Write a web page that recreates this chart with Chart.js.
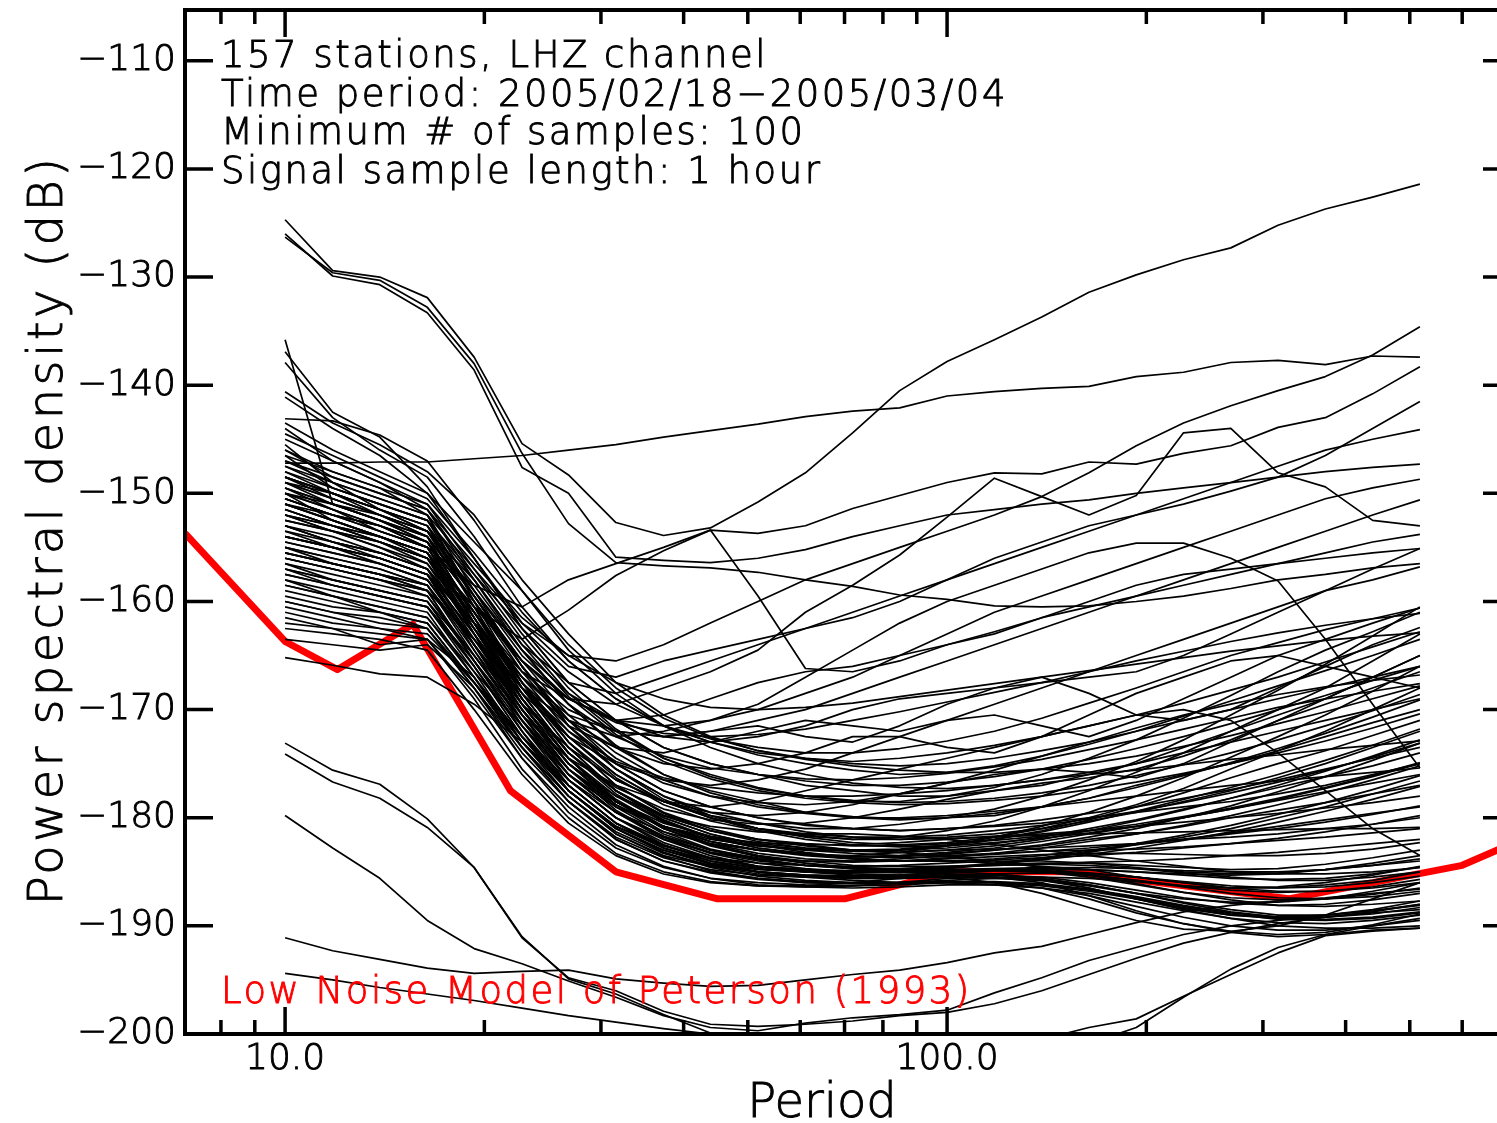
<!DOCTYPE html>
<html>
<head>
<meta charset="utf-8">
<script src="https://cdn.jsdelivr.net/npm/chart.js@4.4.1/dist/chart.umd.min.js"></script>
<style>
  html, body { margin: 0; padding: 0; background: #fff; overflow: hidden; }
  canvas { display: block; }
</style>
</head>
<body>
<canvas id="chart" width="1520" height="1123"></canvas>
<script>
// periods (s) where every station PSD is sampled
const periods = [10.0, 11.8, 13.9, 16.4, 19.3, 22.8, 26.8, 31.6, 37.3, 43.9, 51.8, 61.1, 72.0,
    84.8, 100.0, 117.9, 139.0, 163.8, 193.1, 227.6, 268.3, 316.2, 372.8, 439.4, 517.9];

// Peterson (1993) low noise model, dB
const nlnmPeriods = [7.06, 10, 12, 15.6, 21.9, 31.6, 45, 70, 101, 154, 328, 600, 720];
const nlnmDb = [-153.7, -163.7, -166.3, -162.1, -177.5, -185.0, -187.5, -187.5, -185.0, -185.0, -187.5, -184.4, -182.3];

const dbTicks = [-200, -190, -180, -170, -160, -150, -140, -130, -120, -110];
const periodLabelTicks = [10, 100];
const periodMinorTicks = [8, 9, 20, 30, 40, 50, 60, 70, 80, 90, 200, 300, 400, 500, 600, 700];

const infoLines = [
    "157 stations, LHZ channel",
    "Time period: 2005/02/18\u22122005/03/04",
    "Minimum # of samples: 100",
    "Signal sample length: 1 hour"
];

// noisy stations, upper part of the plot
const upperStations = [
    [-124.7, -129.4, -130.0, -131.9, -137.4, -145.4, -148.3, -152.7, -153.9, -153.2, -150.8, -148.1, -144.4, -140.5, -137.8, -135.8, -133.7, -131.4, -129.8, -128.4, -127.3, -125.2, -123.7, -122.6, -121.4],
    [-126.0, -129.9, -130.7, -133.3, -138.6, -147.6, -150.0, -155.9, -156.2, -156.4, -156.0, -155.2, -154.0, -153.0, -152.0, -151.5, -151.0, -150.6, -150.0, -149.5, -149.0, -148.5, -148.0, -147.6, -147.3],
    [-126.3, -129.6, -130.3, -132.8, -138.0, -146.3, -152.8, -156.4, -156.7, -156.9, -157.3, -158.0, -158.6, -159.4, -159.8, -160.4, -160.5, -160.4, -160.0, -159.5, -158.8, -158.0, -157.5, -156.9, -156.5],
    [-147.2, -147.2, -147.1, -147.1, -146.8, -146.5, -146.0, -145.5, -144.8, -144.2, -143.6, -142.9, -142.4, -142.1, -141.0, -140.6, -140.3, -140.1, -139.2, -138.8, -137.9, -137.7, -138.1, -137.3, -137.4],
    [-146.0, -148.0, -149.5, -152.0, -157.0, -162.0, -165.0, -165.5, -164.0, -162.0, -160.0, -158.0, -156.5, -155.0, -153.5, -152.0, -150.3, -148.1, -145.6, -143.5, -141.9, -140.5, -139.2, -137.2, -134.6],
    [-148.5, -150.0, -151.5, -153.5, -158.0, -164.0, -167.5, -168.5, -167.0, -165.5, -164.0, -162.5, -161.0, -159.5, -158.0, -156.5, -155.0, -153.5, -152.0, -150.5, -149.0, -147.5, -146.0, -145.0, -144.1],
    [-144.0, -147.0, -149.0, -151.0, -156.0, -162.0, -166.0, -167.0, -165.5, -164.5, -163.5, -162.5, -161.5, -160.0, -158.0, -156.0, -154.5, -153.0, -152.0, -151.0, -149.8, -148.5, -146.5, -144.0, -141.5],
    [-150.5, -152.0, -153.0, -155.0, -158.5, -160.5, -158.0, -156.5, -155.0, -153.4, -153.7, -153.0, -151.4, -150.2, -149.0, -148.1, -148.2, -147.1, -147.3, -146.3, -145.6, -143.9, -143.0, -140.8, -138.3],
    [-150.0, -152.5, -154.0, -156.0, -160.5, -163.5, -160.8, -157.6, -155.3, -153.4, -159.5, -166.2, -166.5, -165.5, -164.0, -162.8, -161.5, -160.5, -159.5, -158.5, -157.5, -156.5, -155.5, -154.5, -153.8],
    [-154.0, -155.0, -156.0, -157.5, -162.0, -166.5, -169.0, -169.5, -168.0, -166.5, -164.5, -161.0, -158.5, -155.7, -152.2, -148.6, -150.3, -152.0, -150.2, -144.4, -144.0, -148.1, -149.4, -152.5, -153.0],
    [-152.0, -153.0, -154.5, -156.0, -161.0, -166.5, -170.0, -172.0, -172.5, -172.0, -171.0, -170.0, -168.5, -167.0, -165.5, -164.0, -162.5, -161.0, -159.5, -158.0, -156.5, -155.0, -153.5, -152.0, -150.6],
    [-149.0, -150.5, -152.0, -153.5, -159.0, -165.0, -169.0, -171.0, -171.5, -171.0, -170.0, -168.5, -167.0, -165.0, -163.0, -161.0, -159.5, -158.0, -156.5, -155.0, -153.5, -152.0, -150.5, -149.5, -148.7],
    [-155.5, -156.5, -157.5, -159.0, -163.5, -168.0, -171.0, -172.5, -172.0, -171.0, -169.5, -167.0, -164.5, -162.0, -160.0, -158.5, -157.0, -155.5, -154.6, -154.6, -156.0, -158.1, -163.5, -169.5, -175.4],
    [-135.8, -151.0, -152.5, -154.0, -160.0, -166.5, -171.5, -175.0, -177.5, -179.0, -180.0, -180.6, -181.0, -181.2, -181.0, -180.7, -180.2, -179.6, -179.0, -178.2, -177.4, -176.5, -175.5, -174.5, -173.5],
    [-136.9, -142.5, -144.8, -149.4, -156.0, -162.5, -167.5, -171.0, -173.5, -175.0, -176.0, -176.6, -177.0, -177.0, -176.7, -176.2, -175.5, -174.6, -173.6, -172.5, -171.3, -170.0, -168.7, -167.3, -166.0],
    [-137.9, -143.0, -146.0, -148.5, -154.0, -160.5, -165.5, -169.0, -171.5, -173.0, -174.0, -174.5, -174.8, -174.5, -174.0, -173.3, -172.5, -171.5, -170.5, -169.4, -168.2, -167.0, -165.6, -164.2, -162.8],
    [-140.6, -143.5, -145.5, -148.0, -152.0, -158.0, -163.0, -167.5, -170.5, -172.5, -173.8, -174.5, -175.0, -175.2, -175.0, -174.5, -173.8, -173.0, -172.0, -171.0, -170.0, -169.0, -168.0, -167.0, -166.0],
    [-141.1, -144.0, -146.5, -150.0, -154.5, -159.0, -164.0, -168.0, -170.8, -172.6, -173.8, -174.6, -175.2, -175.6, -175.8, -175.8, -175.5, -175.0, -174.3, -173.4, -172.4, -171.3, -170.2, -169.0, -167.8],
    [-143.1, -143.3, -144.6, -147.0, -152.5, -159.0, -164.5, -168.5, -171.5, -173.5, -175.0, -176.0, -176.8, -177.2, -177.3, -177.0, -176.5, -175.8, -175.0, -174.0, -173.0, -172.0, -171.0, -170.0, -169.0]
];

// main bundle of stations
const coreStations = [
    [-143.5, -146.0, -148.0, -150.0, -156.0, -162.5, -167.5, -171.0, -173.5, -175.0, -176.0, -177.0, -177.5, -178.0, -178.0, -177.5, -177.0, -176.0, -175.0, -173.5, -172.0, -170.5, -169.0, -167.0, -165.0],
    [-145.0, -147.0, -149.0, -151.5, -158.0, -164.5, -169.5, -173.5, -176.0, -177.5, -178.5, -179.5, -180.0, -180.2, -180.0, -179.8, -179.0, -178.2, -177.0, -176.0, -175.0, -173.8, -172.5, -171.2, -170.0],
    [-146.5, -149.5, -151.0, -152.5, -159.5, -166.0, -171.0, -175.0, -177.5, -179.0, -180.0, -180.7, -181.0, -181.2, -181.0, -180.8, -180.5, -180.0, -179.5, -179.0, -178.5, -177.8, -177.0, -176.0, -175.0],
    [-147.5, -149.0, -150.5, -152.0, -160.0, -167.5, -173.0, -177.0, -179.5, -181.0, -182.0, -182.5, -183.0, -183.2, -183.0, -182.9, -182.8, -182.6, -182.4, -182.0, -181.8, -181.5, -181.0, -180.6, -180.0],
    [-148.5, -150.5, -152.0, -154.0, -161.5, -168.5, -174.0, -177.5, -180.0, -181.5, -182.5, -183.2, -183.7, -184.0, -184.0, -184.2, -184.5, -184.8, -185.5, -186.0, -186.5, -186.5, -186.2, -185.8, -185.0],
    [-149.0, -150.0, -151.5, -153.0, -159.5, -166.0, -171.5, -175.5, -178.0, -179.5, -180.5, -181.3, -181.8, -182.0, -181.8, -181.5, -181.0, -180.3, -179.5, -178.5, -177.5, -176.3, -175.0, -173.5, -172.0],
    [-149.5, -151.5, -153.5, -155.0, -162.0, -169.0, -174.5, -178.5, -181.0, -182.5, -183.5, -184.2, -184.7, -185.0, -185.0, -185.2, -185.6, -186.2, -187.0, -187.8, -188.5, -189.0, -189.0, -188.6, -188.0],
    [-150.0, -151.0, -152.5, -154.5, -161.0, -168.0, -173.5, -177.5, -180.0, -181.5, -182.5, -183.0, -183.3, -183.5, -183.3, -183.0, -182.6, -182.0, -181.5, -180.8, -180.0, -179.3, -178.6, -177.8, -177.0],
    [-150.5, -152.0, -153.0, -154.5, -162.0, -169.5, -175.0, -178.5, -181.0, -182.5, -183.5, -184.0, -184.4, -184.5, -184.5, -184.4, -184.3, -184.1, -184.0, -183.8, -183.5, -183.2, -182.8, -182.4, -182.0],
    [-151.0, -152.0, -153.5, -155.0, -161.0, -167.0, -172.0, -175.5, -178.0, -179.8, -181.0, -181.8, -182.3, -182.5, -182.3, -181.8, -181.0, -180.0, -178.8, -177.3, -175.5, -173.8, -172.0, -170.0, -168.0],
    [-151.5, -153.0, -154.0, -155.5, -163.0, -170.5, -176.0, -179.5, -182.0, -183.5, -184.5, -185.0, -185.3, -185.5, -185.5, -185.6, -185.8, -186.3, -187.0, -187.5, -187.8, -187.8, -187.5, -186.8, -186.0],
    [-152.0, -153.5, -154.5, -156.0, -162.5, -169.0, -174.0, -177.5, -179.8, -181.2, -182.0, -182.6, -183.0, -183.0, -182.8, -182.4, -181.8, -181.0, -180.2, -179.2, -178.2, -177.2, -176.2, -175.2, -174.0],
    [-152.5, -153.5, -155.0, -156.5, -163.0, -169.5, -175.0, -178.5, -180.8, -182.2, -183.0, -183.5, -183.8, -184.0, -184.0, -183.8, -183.5, -183.0, -182.5, -182.0, -181.4, -180.8, -180.2, -179.6, -179.0],
    [-153.0, -154.5, -155.5, -157.0, -164.0, -171.0, -176.5, -180.0, -182.5, -184.0, -185.0, -185.5, -185.8, -186.0, -186.0, -186.2, -186.5, -187.0, -187.8, -188.6, -189.3, -189.7, -189.8, -189.5, -189.0],
    [-153.5, -154.5, -155.5, -157.0, -162.5, -168.0, -172.5, -176.0, -178.5, -180.0, -181.0, -181.6, -182.0, -181.8, -181.2, -180.3, -179.0, -177.5, -175.8, -174.0, -172.0, -170.0, -168.0, -165.5, -163.0],
    [-154.0, -155.0, -156.0, -157.5, -164.0, -170.5, -176.0, -179.5, -181.8, -183.2, -184.0, -184.4, -184.6, -184.7, -184.5, -184.3, -184.2, -184.2, -184.4, -184.6, -184.8, -184.7, -184.3, -183.7, -183.0],
    [-154.5, -155.5, -156.5, -158.0, -164.0, -170.0, -175.0, -178.5, -180.8, -182.2, -183.0, -183.4, -183.6, -183.5, -183.2, -182.8, -182.2, -181.5, -180.8, -180.0, -179.2, -178.4, -177.6, -176.8, -176.0],
    [-155.0, -156.0, -157.0, -158.5, -165.0, -171.0, -176.5, -180.0, -182.3, -183.7, -184.5, -184.8, -185.0, -185.0, -184.9, -184.8, -184.9, -185.3, -185.8, -186.3, -186.5, -186.4, -186.0, -185.3, -184.5],
    [-155.5, -156.5, -157.5, -158.5, -164.0, -169.5, -173.5, -176.5, -178.5, -179.8, -180.5, -181.0, -181.0, -180.6, -180.0, -179.2, -178.0, -176.5, -174.8, -172.8, -170.5, -168.2, -165.8, -163.2, -160.5],
    [-156.0, -157.0, -158.0, -159.0, -165.5, -172.0, -177.5, -181.0, -183.0, -184.3, -185.0, -185.3, -185.5, -185.5, -185.4, -185.5, -185.8, -186.5, -187.5, -188.5, -189.3, -190.0, -190.2, -190.2, -190.0],
    [-156.5, -157.5, -158.5, -159.5, -165.5, -171.5, -176.5, -180.0, -182.0, -183.2, -183.8, -184.0, -184.0, -183.8, -183.5, -183.3, -183.1, -183.0, -182.9, -182.7, -182.4, -182.1, -181.8, -181.4, -181.0],
    [-157.0, -158.0, -159.0, -160.0, -166.0, -172.5, -177.5, -181.0, -183.0, -184.2, -184.8, -185.0, -185.0, -184.9, -184.8, -184.8, -185.0, -185.5, -186.2, -186.9, -187.4, -187.6, -187.5, -187.1, -186.5],
    [-157.5, -158.5, -159.5, -160.5, -165.5, -171.0, -175.5, -178.5, -180.5, -181.7, -182.4, -182.8, -183.0, -182.9, -182.5, -182.0, -181.2, -180.2, -179.0, -177.7, -176.3, -175.0, -173.8, -172.4, -171.0],
    [-158.0, -159.0, -160.0, -161.0, -167.0, -173.5, -178.5, -182.0, -184.0, -185.0, -185.6, -185.9, -186.0, -186.0, -185.9, -186.0, -186.3, -186.8, -187.5, -188.3, -189.0, -189.3, -189.2, -188.7, -188.0],
    [-158.5, -159.5, -160.5, -161.5, -166.5, -171.5, -176.0, -179.0, -180.8, -181.8, -182.3, -182.5, -182.5, -182.3, -182.0, -181.7, -181.5, -181.2, -180.8, -180.4, -180.0, -179.6, -179.1, -178.6, -178.0],
    [-159.0, -160.0, -161.0, -162.0, -167.5, -173.0, -177.5, -180.8, -182.6, -183.7, -184.2, -184.4, -184.5, -184.4, -184.2, -184.0, -184.0, -184.2, -184.6, -185.0, -185.2, -185.1, -184.8, -184.4, -184.0],
    [-160.0, -161.0, -161.5, -162.5, -168.0, -174.0, -178.5, -181.8, -183.7, -184.8, -185.3, -185.5, -185.5, -185.4, -185.3, -185.3, -185.5, -186.0, -186.7, -187.4, -187.9, -188.1, -188.0, -187.6, -187.0],
    [-161.0, -162.0, -162.5, -163.0, -167.5, -172.5, -176.5, -179.5, -181.3, -182.4, -183.0, -183.4, -183.5, -183.2, -182.6, -181.8, -180.8, -179.5, -178.0, -176.3, -174.4, -172.5, -170.5, -168.3, -166.0],
    [-162.0, -162.5, -163.0, -163.5, -168.5, -174.5, -179.0, -182.5, -184.5, -185.6, -186.2, -186.4, -186.5, -186.4, -186.2, -186.2, -186.5, -187.2, -188.2, -189.2, -190.0, -190.4, -190.4, -190.0, -189.5],
    [-146.0, -148.5, -150.0, -151.5, -157.5, -163.5, -168.5, -172.0, -174.5, -176.0, -177.2, -178.0, -178.5, -178.5, -178.0, -177.2, -176.0, -174.5, -172.8, -170.8, -168.7, -166.5, -164.5, -162.8, -161.0],
    [-144.5, -146.5, -148.5, -150.5, -155.5, -161.0, -165.5, -169.0, -171.5, -173.0, -174.2, -175.0, -175.6, -176.0, -175.8, -175.2, -174.3, -173.2, -172.0, -170.6, -169.2, -167.8, -166.4, -165.0, -163.5],
    [-148.0, -149.5, -151.0, -152.5, -157.5, -162.5, -166.5, -169.5, -171.5, -172.7, -173.5, -174.0, -174.0, -173.6, -172.9, -172.0, -170.8, -169.4, -168.0, -166.5, -165.0, -163.8, -162.6, -161.6, -160.6],
    [-150.0, -151.5, -153.0, -154.5, -160.0, -165.5, -169.5, -172.5, -174.3, -175.4, -176.0, -176.4, -176.5, -176.3, -175.9, -175.3, -174.6, -173.7, -172.8, -171.8, -170.8, -169.8, -169.0, -168.3, -167.6],
    [-147.0, -148.5, -150.0, -151.5, -156.5, -161.5, -165.0, -167.5, -169.0, -169.8, -170.0, -169.8, -169.4, -168.8, -168.2, -167.6, -167.0, -166.4, -165.8, -165.2, -164.6, -164.1, -163.6, -163.2, -162.9],
    [-151.0, -152.5, -154.0, -155.5, -160.5, -165.5, -169.0, -171.2, -172.2, -172.5, -172.3, -171.8, -171.0, -170.2, -169.3, -168.4, -167.5, -166.5, -165.5, -164.6, -163.7, -162.9, -162.2, -161.6, -161.1],
    [-153.0, -154.0, -155.5, -157.0, -162.5, -168.0, -172.0, -174.8, -176.3, -177.2, -177.7, -178.0, -178.0, -177.8, -177.5, -177.0, -176.5, -176.0, -175.6, -175.1, -174.6, -174.2, -173.7, -173.3, -172.9],
    [-149.5, -151.0, -152.0, -153.5, -159.5, -165.5, -170.5, -174.0, -176.5, -178.0, -179.0, -179.6, -180.0, -180.0, -179.8, -179.4, -179.0, -178.5, -178.0, -177.5, -177.0, -176.6, -176.2, -175.8, -175.4],
    [-154.0, -155.0, -156.5, -158.0, -164.0, -170.0, -175.0, -178.0, -179.8, -180.8, -181.3, -181.5, -181.5, -181.7, -182.0, -182.5, -183.0, -183.5, -184.0, -184.5, -185.0, -185.2, -185.2, -185.0, -184.6],
    [-155.5, -156.5, -157.5, -158.5, -164.5, -170.5, -175.5, -178.8, -180.8, -182.0, -182.6, -182.9, -183.0, -183.2, -183.6, -184.0, -184.6, -185.3, -186.1, -186.9, -187.6, -188.1, -188.2, -188.0, -187.7],
    [-145.5, -149.0, -151.5, -153.5, -160.5, -167.5, -172.5, -176.3, -178.8, -180.3, -181.2, -181.7, -182.0, -182.0, -181.9, -181.8, -181.6, -181.5, -181.4, -181.3, -181.2, -181.1, -181.0, -181.0, -180.9],
    [-152.0, -153.5, -155.0, -157.0, -162.0, -167.0, -170.5, -172.0, -172.5, -172.0, -171.5, -172.5, -173.0, -171.5, -169.5, -168.0, -167.0, -168.5, -170.5, -171.0, -170.0, -168.0, -166.0, -164.0, -162.4],
    [-149.0, -150.5, -152.0, -154.0, -159.5, -165.5, -169.0, -171.0, -170.5, -169.0, -167.5, -166.5, -166.0, -165.0, -164.0, -163.0, -161.5, -160.0, -158.5, -157.5, -157.0, -156.5, -156.0, -155.5, -155.1],
    [-151.5, -153.0, -154.5, -156.5, -162.0, -167.5, -171.5, -173.5, -174.0, -173.0, -172.0, -171.0, -171.5, -172.0, -171.0, -169.5, -168.0, -166.5, -165.0, -163.5, -162.0, -160.5, -159.0, -158.0, -156.8],
    [-156.0, -157.0, -158.0, -159.0, -163.5, -168.5, -172.5, -175.0, -176.5, -177.0, -176.5, -175.5, -174.0, -172.5, -171.0, -170.5, -171.5, -172.5, -171.0, -169.0, -167.0, -165.0, -163.5, -162.0, -160.6],
    [-150.5, -152.0, -153.5, -155.0, -161.0, -167.0, -171.0, -173.5, -175.0, -175.5, -175.0, -174.0, -172.5, -172.5, -173.5, -174.0, -172.5, -170.5, -168.5, -167.0, -165.5, -165.0, -166.0, -167.0, -168.0],
    [-148.5, -150.0, -152.0, -153.5, -159.0, -164.5, -168.5, -171.0, -172.5, -173.0, -172.5, -171.5, -170.0, -169.0, -168.5, -168.0, -167.5, -167.0, -166.5, -165.0, -163.0, -161.0, -159.0, -157.0, -155.1],
    [-157.0, -158.0, -159.0, -160.0, -165.0, -170.5, -174.5, -177.0, -178.5, -179.0, -178.5, -177.5, -176.5, -175.5, -174.5, -173.5, -172.5, -171.5, -170.5, -170.0, -171.0, -174.0, -177.5, -181.0, -183.5],
    [-158.0, -159.5, -161.0, -162.5, -168.0, -174.5, -179.5, -182.8, -184.6, -185.6, -186.0, -186.2, -186.3, -186.2, -186.0, -186.0, -186.5, -187.5, -188.8, -189.8, -190.5, -190.8, -190.6, -189.9, -188.9],
    [-160.5, -161.5, -162.5, -163.5, -169.0, -175.5, -180.0, -183.3, -185.0, -185.9, -186.3, -186.4, -186.3, -186.0, -185.6, -185.5, -186.0, -187.2, -188.6, -189.8, -190.6, -191.0, -190.8, -190.0, -189.3],
    [-162.5, -163.0, -163.5, -164.5, -170.0, -176.0, -180.5, -183.5, -185.2, -186.0, -186.3, -186.3, -186.0, -185.6, -185.5, -186.0, -187.0, -188.3, -189.5, -190.3, -190.5, -190.0, -189.0, -187.5, -186.0],
    [-165.2, -165.9, -166.7, -167.0, -169.5, -173.0, -177.0, -180.5, -182.5, -183.8, -184.5, -185.0, -185.2, -185.3, -185.2, -185.3, -185.7, -186.5, -187.5, -188.4, -189.0, -189.2, -189.0, -188.5, -187.7],
    [-163.5, -164.0, -164.5, -164.0, -168.0, -173.5, -178.0, -181.5, -183.5, -184.5, -185.0, -185.3, -185.4, -185.3, -185.0, -184.8, -184.7, -184.8, -185.0, -185.2, -185.3, -185.2, -184.8, -184.2, -183.5],
    [-161.5, -162.5, -164.0, -163.5, -167.0, -172.5, -177.0, -180.5, -182.8, -184.0, -184.7, -185.0, -185.1, -185.0, -184.7, -184.3, -183.8, -183.2, -182.5, -181.8, -181.0, -180.0, -179.0, -177.8, -176.6],
    [-147.0, -149.0, -150.5, -152.0, -159.0, -166.0, -171.5, -175.5, -178.3, -180.0, -181.2, -182.0, -182.5, -182.7, -182.6, -182.3, -181.9, -181.4, -180.8, -180.0, -179.2, -178.3, -177.3, -176.2, -175.0],
    [-148.0, -150.0, -151.5, -153.0, -160.5, -168.0, -173.5, -177.5, -180.2, -181.8, -182.8, -183.4, -183.8, -184.0, -184.0, -183.9, -183.7, -183.5, -183.2, -182.8, -182.4, -181.9, -181.3, -180.6, -179.8],
    [-149.0, -151.0, -152.5, -154.0, -161.5, -169.0, -174.5, -178.5, -181.0, -182.6, -183.6, -184.2, -184.6, -184.8, -184.8, -184.7, -184.6, -184.6, -184.7, -184.9, -185.0, -185.0, -184.8, -184.4, -183.8],
    [-150.5, -152.0, -153.0, -154.5, -161.0, -167.5, -173.0, -177.0, -179.6, -181.2, -182.2, -182.8, -183.1, -183.2, -183.0, -182.6, -182.0, -181.2, -180.3, -179.3, -178.2, -177.0, -175.7, -174.3, -172.8],
    [-151.0, -152.5, -154.0, -155.5, -162.5, -169.5, -175.0, -178.8, -181.3, -182.9, -183.8, -184.4, -184.7, -184.9, -184.9, -184.9, -185.0, -185.3, -185.8, -186.4, -187.0, -187.4, -187.5, -187.3, -186.8],
    [-152.5, -153.5, -154.5, -156.0, -163.0, -170.0, -175.5, -179.0, -181.5, -183.0, -183.9, -184.4, -184.7, -184.8, -184.6, -184.3, -183.9, -183.4, -182.8, -182.1, -181.3, -180.4, -179.4, -178.3, -177.1],
    [-153.5, -155.0, -156.0, -157.5, -164.5, -171.5, -177.0, -180.5, -182.8, -184.2, -185.0, -185.4, -185.6, -185.6, -185.5, -185.5, -185.7, -186.2, -187.0, -187.9, -188.7, -189.2, -189.4, -189.2, -188.7],
    [-154.5, -155.5, -156.5, -158.0, -163.5, -169.5, -174.5, -178.0, -180.4, -181.8, -182.6, -183.0, -183.1, -183.0, -182.6, -182.0, -181.3, -180.4, -179.4, -178.3, -177.2, -176.0, -174.7, -173.3, -171.8],
    [-155.0, -156.5, -157.5, -159.0, -165.5, -172.0, -177.5, -181.0, -183.2, -184.6, -185.4, -185.8, -186.0, -186.0, -185.8, -185.6, -185.5, -185.6, -185.9, -186.3, -186.7, -186.9, -186.8, -186.4, -185.7],
    [-156.0, -157.0, -158.0, -159.5, -165.0, -171.0, -176.0, -179.5, -181.7, -183.0, -183.7, -184.0, -184.1, -184.0, -183.7, -183.3, -182.8, -182.2, -181.5, -180.7, -179.8, -178.8, -177.7, -176.5, -175.2],
    [-157.0, -158.5, -159.5, -160.5, -166.5, -173.0, -178.0, -181.5, -183.6, -184.9, -185.6, -186.0, -186.1, -186.1, -186.0, -186.0, -186.2, -186.7, -187.4, -188.2, -188.9, -189.4, -189.5, -189.3, -188.8],
    [-158.5, -159.5, -160.5, -161.5, -167.0, -173.0, -177.5, -180.8, -182.8, -184.0, -184.6, -184.9, -185.0, -184.9, -184.6, -184.2, -183.7, -183.1, -182.4, -181.6, -180.7, -179.7, -178.6, -177.4, -176.1],
    [-160.0, -161.0, -162.0, -162.5, -167.5, -173.5, -178.0, -181.3, -183.3, -184.4, -185.0, -185.3, -185.4, -185.3, -185.1, -184.9, -184.8, -184.8, -185.0, -185.3, -185.6, -185.7, -185.6, -185.2, -184.6],
    [-146.5, -148.0, -149.5, -151.0, -157.0, -163.0, -168.0, -171.8, -174.5, -176.2, -177.3, -178.0, -178.4, -178.6, -178.5, -178.2, -177.7, -177.0, -176.1, -175.1, -174.0, -172.8, -171.5, -170.1, -168.6],
    [-148.5, -150.0, -151.5, -153.0, -158.5, -164.5, -169.5, -173.3, -176.0, -177.7, -178.8, -179.5, -179.9, -180.1, -180.0, -179.6, -179.0, -178.2, -177.2, -176.1, -174.9, -173.6, -172.2, -170.7, -169.1],
    [-152.0, -153.0, -154.5, -156.0, -161.5, -167.5, -172.5, -176.0, -178.5, -180.0, -181.0, -181.5, -181.8, -181.8, -181.6, -181.2, -180.7, -180.1, -179.4, -178.6, -177.7, -176.7, -175.6, -174.4, -173.1],
    [-150.0, -151.5, -153.0, -155.0, -162.0, -169.0, -174.5, -178.3, -180.8, -182.4, -183.3, -183.8, -184.0, -184.0, -183.8, -183.6, -183.4, -183.3, -183.3, -183.4, -183.5, -183.5, -183.3, -182.9, -182.3],
    [-153.0, -154.5, -155.5, -157.0, -163.5, -170.0, -175.5, -179.3, -181.8, -183.3, -184.2, -184.7, -185.0, -185.1, -185.0, -184.9, -184.9, -185.1, -185.5, -186.0, -186.5, -186.8, -186.8, -186.5, -186.0],
    [-155.0, -156.0, -157.0, -158.5, -164.0, -170.0, -175.0, -178.5, -180.8, -182.2, -183.0, -183.4, -183.6, -183.6, -183.4, -183.0, -182.5, -181.8, -181.0, -180.0, -178.9, -177.6, -176.2, -174.7, -173.1],
    [-157.5, -158.5, -159.5, -160.5, -166.0, -172.0, -177.0, -180.5, -182.6, -183.8, -184.5, -184.8, -184.9, -184.8, -184.6, -184.4, -184.3, -184.4, -184.7, -185.1, -185.5, -185.8, -185.8, -185.5, -185.0],
    [-159.5, -160.5, -161.0, -162.0, -167.5, -173.5, -178.5, -182.0, -184.0, -185.1, -185.7, -186.0, -186.1, -186.0, -185.9, -185.9, -186.1, -186.6, -187.3, -188.1, -188.8, -189.2, -189.2, -188.9, -188.3],
    [-147.5, -149.5, -151.0, -152.5, -158.0, -164.0, -168.8, -172.3, -174.8, -176.4, -177.5, -178.2, -178.6, -178.8, -178.7, -178.4, -178.0, -177.4, -176.7, -175.9, -175.0, -174.0, -172.9, -171.7, -170.4],
    [-151.5, -153.0, -154.0, -155.5, -162.0, -168.5, -174.0, -177.8, -180.3, -181.9, -182.8, -183.3, -183.6, -183.7, -183.6, -183.4, -183.1, -182.8, -182.4, -182.0, -181.5, -181.0, -180.4, -179.7, -178.9],
    [-154.0, -155.0, -156.0, -157.5, -163.0, -169.0, -174.0, -177.5, -179.8, -181.2, -182.0, -182.4, -182.6, -182.6, -182.4, -182.1, -181.7, -181.2, -180.6, -179.9, -179.1, -178.2, -177.2, -176.1, -174.9],
    [-156.5, -158.0, -159.0, -160.0, -166.0, -172.5, -177.5, -181.0, -183.2, -184.5, -185.2, -185.5, -185.6, -185.6, -185.4, -185.2, -185.1, -185.2, -185.5, -185.9, -186.3, -186.5, -186.4, -186.0, -185.4],
    [-151.0, -152.5, -154.0, -155.5, -161.5, -168.0, -173.0, -176.5, -178.5, -179.5, -179.8, -179.5, -178.8, -177.8, -176.8, -176.0, -175.5, -175.8, -176.3, -175.0, -173.0, -171.0, -169.5, -168.0, -166.5],
    [-153.0, -154.5, -156.0, -157.5, -163.0, -169.0, -174.0, -177.2, -179.2, -180.2, -180.6, -180.5, -180.0, -179.2, -178.3, -177.5, -176.8, -176.3, -175.5, -174.3, -172.8, -171.0, -169.0, -167.0, -165.0],
    [-149.5, -151.0, -152.5, -154.5, -160.0, -166.0, -171.0, -174.5, -176.8, -178.0, -178.6, -178.8, -178.5, -177.8, -176.8, -175.6, -174.3, -173.0, -171.7, -170.5, -169.5, -168.6, -167.9, -167.3, -166.8]
];

// quiet stations, below the noise model at short periods
const lowerStations = [
    [-173.1, -175.6, -176.9, -180.1, -184.6, -191.0, -194.9, -196.3, -198.2, -199.9, -201.5, -202.5, -203.5, -204.0, -204.0, -203.5, -202.5, -200.9, -199.4, -196.6, -194.0, -192.0, -190.8, -190.4, -190.2],
    [-174.1, -176.7, -178.2, -180.9, -184.6, -191.1, -194.8, -196.0, -197.9, -199.1, -199.3, -199.1, -198.8, -198.3, -198.0, -197.2, -196.0, -194.5, -193.0, -191.6, -190.6, -189.8, -189.2, -188.8, -188.5],
    [-179.8, -182.8, -185.6, -189.5, -192.1, -193.5, -195.1, -196.6, -198.3, -199.4, -199.7, -199.0, -198.5, -198.2, -197.8, -196.2, -194.8, -193.2, -192.0, -190.8, -190.0, -189.5, -189.0, -188.6, -188.1],
    [-191.1, -192.3, -193.1, -193.9, -194.4, -194.2, -194.1, -194.9, -195.3, -195.6, -195.5, -195.0, -194.5, -194.1, -193.4, -192.5, -191.9, -190.8, -189.7, -188.7, -188.1, -187.7, -187.4, -187.0, -186.6],
    [-194.4, -195.0, -195.7, -196.3, -196.9, -197.6, -198.3, -198.9, -199.5, -200.0, -200.5, -201.5, -202.0, -202.5, -202.5, -202.0, -200.5, -199.4, -198.6, -196.5, -194.5, -192.5, -190.9, -190.5, -190.2]
];

const fontFamily = "'DejaVu Sans', 'Liberation Sans', sans-serif";

document.addEventListener("DOMContentLoaded", () => {
    const ctx = document.getElementById("chart").getContext("2d");

    const stationSets = upperStations.concat(coreStations, lowerStations).map((values) => ({
        data: periods.map((p, i) => ({ x: p, y: values[i] })),
        borderColor: "#000000",
        borderWidth: 1.7,
        order: 0
    }));

    const nlnmSet = {
        data: nlnmPeriods.map((p, i) => ({ x: p, y: nlnmDb[i] })),
        borderColor: "#ff0000",
        borderWidth: 7,
        order: 1
    };

    // draws text a little heavier than the extra-light face
    function heavyText(c, text, x, y) {
        c.strokeStyle = c.fillStyle;
        c.lineWidth = 0.9;
        c.fillText(text, x, y);
        c.strokeText(text, x, y);
    }

    // frame, inward tick marks and the free text
    const frameAndText = {
        id: "frameAndText",
        afterDraw(chart) {
            const c = chart.ctx;
            const a = chart.chartArea;
            const xs = chart.scales.x;
            const ys = chart.scales.y;
            c.save();
            c.strokeStyle = "#000";
            c.lineWidth = 4;
            c.strokeRect(a.left, a.top, a.right - a.left, a.bottom - a.top);

            c.lineWidth = 3.5;
            c.beginPath();
            dbTicks.forEach((v) => {
                const py = ys.getPixelForValue(v);
                c.moveTo(a.left, py); c.lineTo(a.left + 28, py);
                c.moveTo(a.right, py); c.lineTo(a.right - 28, py);
            });
            periodLabelTicks.forEach((v) => {
                const px = xs.getPixelForValue(v);
                c.moveTo(px, a.bottom); c.lineTo(px, a.bottom - 27);
                c.moveTo(px, a.top); c.lineTo(px, a.top + 27);
            });
            periodMinorTicks.forEach((v) => {
                const px = xs.getPixelForValue(v);
                c.moveTo(px, a.bottom); c.lineTo(px, a.bottom - 14);
                c.moveTo(px, a.top); c.lineTo(px, a.top + 14);
            });
            c.stroke();

            c.fillStyle = "#000";
            c.textAlign = "left";
            c.textBaseline = "alphabetic";
            c.font = "200 37px " + fontFamily;
            c.letterSpacing = "2.5px";
            infoLines.forEach((t, i) => heavyText(c, t, 221, 67 + i * 38.5));

            c.fillStyle = "#ff0000";
            heavyText(c, "Low Noise Model of Peterson (1993)", 221, 1003);

            c.fillStyle = "#000";
            c.letterSpacing = "0px";
            c.font = "200 48px " + fontFamily;
            c.textAlign = "center";
            heavyText(c, "Period", 822, 1117);

            c.translate(62, 530);
            c.rotate(-Math.PI / 2);
            c.letterSpacing = "3.4px";
            heavyText(c, "Power spectral density (dB)", 0, 0);
            c.restore();
        }
    };

    const tickFont = { family: fontFamily, size: 36, weight: "200" };

    new Chart(ctx, {
        type: "line",
        data: { datasets: [nlnmSet].concat(stationSets) },
        options: {
            responsive: false,
            animation: false,
            devicePixelRatio: 1,
            layout: { padding: { top: 10, right: 9, left: 0, bottom: 0 } },
            plugins: { legend: { display: false }, tooltip: { enabled: false } },
            elements: {
                point: { radius: 0 },
                line: { tension: 0, borderJoinStyle: "round" }
            },
            scales: {
                x: {
                    type: "logarithmic",
                    bounds: "data",
                    min: 7.06,
                    max: 711,
                    grid: { display: false, drawTicks: false },
                    border: { display: false },
                    afterBuildTicks: (s) => { s.ticks = periodLabelTicks.map((v) => ({ value: v })); },
                    afterFit: (s) => {
                        s.height = 89;
                        s.paddingLeft = 0;
                        s.paddingRight = 0;
                    },
                    ticks: {
                        autoSkip: false,
                        maxRotation: 0,
                        padding: 4,
                        color: "#000",
                        textStrokeColor: "#000",
                        textStrokeWidth: 0.9,
                        font: tickFont,
                        callback: (v) => Number(v).toFixed(1)
                    }
                },
                y: {
                    type: "linear",
                    bounds: "data",
                    min: -200,
                    max: -105.3,
                    grid: { display: false, drawTicks: false },
                    border: { display: false },
                    afterBuildTicks: (s) => { s.ticks = dbTicks.map((v) => ({ value: v })); },
                    afterFit: (s) => {
                        s.width = 185;
                        s.paddingTop = 0;
                        s.paddingBottom = 0;
                    },
                    ticks: {
                        padding: 9,
                        color: "#000",
                        textStrokeColor: "#000",
                        textStrokeWidth: 0.9,
                        font: tickFont,
                        callback: (v) => "\u2212" + Math.abs(v)
                    }
                }
            }
        },
        plugins: [frameAndText]
    });
});
</script>
</body>
</html>
